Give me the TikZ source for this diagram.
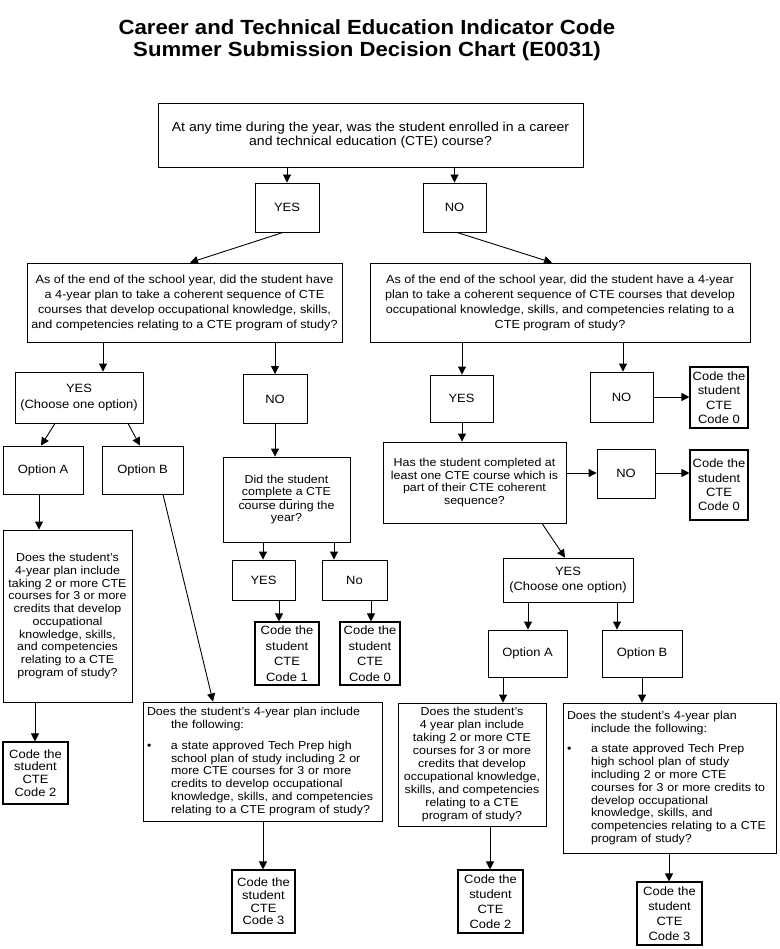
\documentclass[tikz,border=0pt]{standalone}
\usepackage{fontspec}
\setmainfont{Liberation Sans}[FakeStretch=1.08]
\usetikzlibrary{arrows.meta}
\newcommand{\boxfont}[2]{\fontsize{#1}{#2}\selectfont}

\begin{document}
\begin{tikzpicture}[x=1pt, y=-1pt,
    box/.style={draw, line width=0.9pt, inner sep=0pt, align=center, font=\boxfont{12}{14}},
    codebox/.style={box, line width=1.1pt},
    sz/.style 2 args={minimum width=#1pt, minimum height=#2pt},
    arr/.style={-{Triangle[length=8pt, width=8pt]}, line width=0.9pt}]
        \useasboundingbox (0,0) rectangle (779,949);
        \node[align=center, inner sep=0pt, font=\bfseries\boxfont{20.5}{22}] (title) at (367,40) {Career and Technical Education Indicator Code\\Summer Submission Decision Chart (E0031)};
        % first question
        \node[box, sz={425}{64}, font=\boxfont{13}{14}] (q1) at (370.5,135) {At any time during the year, was the student enrolled in a career\\and technical education (CTE) course?};
        \node[box, sz={64}{49}] (yes1) at (287,207.5) {YES};
        \node[box, sz={63}{49}] (no1) at (454.5,207.5) {NO};
        \node[box, sz={315}{79}, font=\boxfont{11.7}{15}] (q2l) at (184.5,302.5) {As of the end of the school year, did the student have\\a 4-year plan to take a coherent sequence of CTE\\courses that develop occupational knowledge, skills,\\and competencies relating to a CTE program of study?};
        \node[box, sz={380}{79}, font=\boxfont{11.7}{15}] (q2r) at (560,302.5) {As of the end of the school year, did the student have a 4-year\\plan to take a coherent sequence of CTE courses that develop\\occupational knowledge, skills, and competencies relating to a\\CTE program of study?};
        % left branch
        \node[box, sz={128}{51}, font=\boxfont{12}{16}] (yesl) at (79,397.5) {YES\\(Choose one option)};
        \node[box, sz={64}{49}] (nol) at (275,399) {NO};
        \node[box, sz={80}{48}] (optAl) at (43,470) {Option A};
        \node[box, sz={81}{48}] (optBl) at (142.5,470) {Option B};
        \node[box, sz={127}{85}, font=\boxfont{11.5}{12.5}] (didq) at (286.5,499.5) {Did the student\\\underline{complete} a CTE\\course during the\\year?};
        \node[box, sz={129}{172}, font=\boxfont{11.5}{12.7}] (doesl) at (67.5,616) {Does the student's\\4-year plan include\\taking 2 or more CTE\\courses for 3 or more\\credits that develop\\occupational\\knowledge, skills,\\and competencies\\relating to a CTE\\program of study?};
        \node[codebox, sz={65}{62}, font=\boxfont{12}{12.7}] (code2l) at (35.5,773) {Code the\\student\\CTE\\Code 2};
        \node[box, sz={63}{40}] (yesd) at (263.5,580) {YES};
        \node[box, sz={65}{40}] (nod) at (354.5,580) {No};
        \node[codebox, sz={64}{63}, font=\boxfont{12}{15.5}] (code1) at (287,653.5) {Code the\\student\\CTE\\Code 1};
        \node[codebox, sz={60}{63}, font=\boxfont{12}{15.5}] (code0d) at (370,653.5) {Code the\\student\\CTE\\Code 0};
        \node[box, align=left, text width=231pt, inner xsep=4pt, minimum height=119pt, font=\boxfont{11.5}{12.8}] (techl) at (262.5,761.5) {Does the student's 4-year plan include\\
            \hspace*{24pt}the following:\\[8pt]
            \makebox[24pt][l]{•}a state approved Tech Prep high\\
            \hspace*{24pt}school plan of study including 2 or\\
            \hspace*{24pt}more CTE courses for 3 or more\\
            \hspace*{24pt}credits to develop occupational\\
            \hspace*{24pt}knowledge, skills, and competencies\\
            \hspace*{24pt}relating to a CTE program of study?};
        \node[codebox, sz={63}{63}, font=\boxfont{12}{12.7}] (code3l) at (263.5,901.5) {Code the\\student\\CTE\\Code 3};
        % right branch
        \node[box, sz={63}{47}] (yesr) at (461.5,398.5) {YES};
        \node[box, sz={63}{50}] (nor) at (621.5,397) {NO};
        \node[codebox, sz={58}{61}, font=\boxfont{12}{14.5}] (code0a) at (719,397.5) {Code the\\student\\CTE\\Code 0};
        \node[box, sz={183}{81}, font=\boxfont{11.5}{12.7}] (hasq) at (474.5,482.5) {Has the student completed at\\least one CTE course which is\\part of their CTE coherent\\sequence?};
        \node[box, sz={58}{49}] (nor2) at (626,473.5) {NO};
        \node[codebox, sz={58}{70}, font=\boxfont{12}{14.3}] (code0b) at (719,485) {Code the\\student\\CTE\\Code 0};
        \node[box, sz={130}{44}, font=\boxfont{12}{15}] (yesrc) at (568,580) {YES\\(Choose one option)};
        \node[box, sz={79}{47}] (optAr) at (527.5,653.5) {Option A};
        \node[box, sz={80}{47}] (optBr) at (642,653.5) {Option B};
        \node[box, sz={148}{123}, font=\boxfont{11.5}{12.9}] (doesr) at (472,764.5) {Does the student's\\4 year plan include\\taking 2 or more CTE\\courses for 3 or more\\credits that develop\\occupational knowledge,\\skills, and competencies\\relating to a CTE\\program of study?};
        \node[box, align=left, text width=205pt, inner xsep=4pt, minimum height=150pt, font=\boxfont{11.5}{12.8}] (techr) at (669.5,778) {Does the student's 4-year plan\\
            \hspace*{24pt}include the following:\\[8pt]
            \makebox[24pt][l]{•}a state approved Tech Prep\\
            \hspace*{24pt}high school plan of study\\
            \hspace*{24pt}including 2 or more CTE\\
            \hspace*{24pt}courses for 3 or more credits to\\
            \hspace*{24pt}develop occupational\\
            \hspace*{24pt}knowledge, skills, and\\
            \hspace*{24pt}competencies relating to a CTE\\
            \hspace*{24pt}program of study?};
        \node[codebox, sz={65}{63}, font=\boxfont{12}{15}] (code2r) at (490.5,901.5) {Code the\\student\\CTE\\Code 2};
        \node[codebox, sz={65}{63}, font=\boxfont{12}{15}] (code3r) at (669.5,913.5) {Code the\\student\\CTE\\Code 3};
        % Connect the boxes
        \draw[arr] (q1.south -| yes1) -- (yes1.north);
        \draw[arr] (q1.south -| no1) -- (no1.north);
        \draw[arr] (yes1.south -| 283,0) -- (q2l.north -| 190,0);
        \draw[arr] (no1.south -| 457,0) -- (q2r.north -| 552,0);
        \draw[arr] (q2l.south -| 103,0) -- (yesl.north -| 103,0);
        \draw[arr] (q2l.south -| nol) -- (nol.north);
        \draw[arr] (q2r.south -| 462,0) -- (yesr.north -| 462,0);
        \draw[arr] (q2r.south -| 623,0) -- (nor.north -| 623,0);
        \draw[arr] (nor.east |- 0,397) -- (code0a.west |- 0,397);
        \draw[arr] (yesl.south -| 55,0) -- (optAl.north -| 41,0);
        \draw[arr] (yesl.south -| 128,0) -- (optBl.north -| 140,0);
        \draw[arr] (nol.south) -- (didq.north -| nol);
        \draw[arr] (optAl.south -| 39,0) -- (doesl.north -| 39,0);
        \draw[arr] (doesl.south -| 35,0) -- (code2l.north -| 35,0);
        \draw[arr] (optBl.south -| 163,0) -- (techl.north -| 213,0);
        \draw[arr] (techl.south -| 263,0) -- (code3l.north -| 263,0);
        \draw[arr] (didq.south -| 263,0) -- (yesd.north -| 263,0);
        \draw[arr] (didq.south -| 334,0) -- (nod.north -| 334,0);
        \draw[arr] (yesd.south -| 279,0) -- (code1.north -| 279,0);
        \draw[arr] (nod.south -| 371,0) -- (code0d.north -| 371,0);
        \draw[arr] (yesr.south -| 462,0) -- (hasq.north -| 462,0);
        \draw[arr] (hasq.east |- 0,473) -- (nor2.west |- 0,473);
        \draw[arr] (nor2.east |- 0,473) -- (code0b.west |- 0,473);
        \draw[arr] (hasq.south -| 542,0) -- (yesrc.north -| 565,0);
        \draw[arr] (yesrc.south -| 528,0) -- (optAr.north -| 528,0);
        \draw[arr] (yesrc.south -| 617,0) -- (optBr.north -| 617,0);
        \draw[arr] (optAr.south -| 503,0) -- (doesr.north -| 503,0);
        \draw[arr] (optBr.south -| 642,0) -- (techr.north -| 642,0);
        \draw[arr] (doesr.south -| 490,0) -- (code2r.north -| 490,0);
        \draw[arr] (techr.south -| 669,0) -- (code3r.north -| 669,0);
    \end{tikzpicture}
\end{document}
